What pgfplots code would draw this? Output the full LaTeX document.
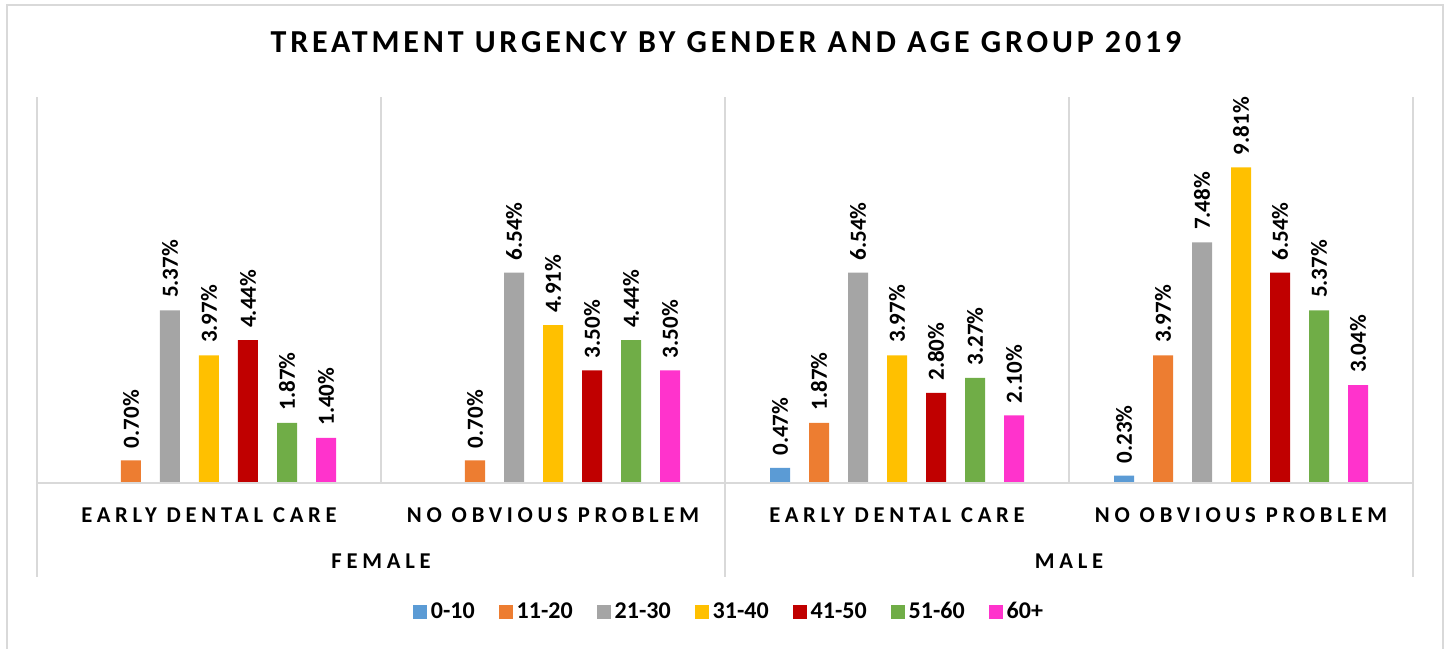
\documentclass[border=0pt]{standalone}
\usepackage{pgfplots}
\pgfplotsset{compat=1.18}
\usepackage{fontspec}
\setmainfont{Carlito}
\newfontfamily\spacedfont[LetterSpace=21]{Carlito}
\newfontfamily\titlefont[LetterSpace=12]{Carlito}
\definecolor{gridc}{HTML}{D9D9D9}
\definecolor{cA}{HTML}{5B9BD5}
\definecolor{cB}{HTML}{ED7D31}
\definecolor{cC}{HTML}{A5A5A5}
\definecolor{cD}{HTML}{FFC000}
\definecolor{cE}{HTML}{C00000}
\definecolor{cF}{HTML}{70AD47}
\definecolor{cG}{HTML}{FF33CC}
\pgfplotsset{sqlegend/.style={legend image code/.code={\fill[##1] (0pt,-3.5pt) rectangle (7pt,3.5pt);}}}
\begin{document}
\begin{tikzpicture}
\useasboundingbox (-18.5pt,-82.5pt) rectangle (704pt,241.5pt);
\draw[gridc, line width=0.75pt] (-15pt,-100pt) -- (-15pt,239pt) -- (703pt,239pt) -- (703pt,-100pt);
\node[anchor=base, font=\titlefont\bfseries\fontsize{16}{19}\selectfont] at (344.5pt,215pt) {TREATMENT URGENCY BY GENDER AND AGE GROUP 2019};
\begin{axis}[
  at={(0pt,0pt)}, anchor=south west,
  width=688pt, height=193pt, scale only axis,
  xmin=-0.5, xmax=3.5, ymin=0, ymax=12,
  ybar=9.5pt, bar width=10pt,
  axis line style={draw=none},
  ytick=\empty,
  xtick={0,1,2,3},
  xticklabels={EARLY DENTAL CARE, NO OBVIOUS PROBLEM, EARLY DENTAL CARE, NO OBVIOUS PROBLEM},
  xticklabel style={font=\spacedfont\bfseries\fontsize{11.3}{13}\selectfont, anchor=base, yshift=-19.5pt},
  major tick length=0pt, minor tick length=0pt,
  minor xtick={-0.5,0.5,1.5,2.5,3.5},
  xminorgrids, minor grid style={gridc, line width=0.75pt},
  clip=false,
  /pgf/number format/assume math mode=true,
  nodes near coords={\pgfmathprintnumber[fixed,fixed zerofill,precision=2,assume math mode=true]{\pgfplotspointmeta}\%},
  nodes near coords style={rotate=90, anchor=west, inner xsep=6pt, font=\bfseries\fontsize{11.5}{13}\selectfont, text=black},
  legend style={draw=none, at={(0.5036,-0.334)}, anchor=center, legend columns=-1,
    font=\bfseries\fontsize{12}{14}\selectfont,
    /tikz/every even column/.append style={column sep=10pt}},
  legend cell align=left,
]
\addplot[fill=cA, draw=none, sqlegend] coordinates {(2,0.47) (3,0.23)};
\addplot[fill=cB, draw=none, sqlegend] coordinates {(0,0.70) (1,0.70) (2,1.87) (3,3.97)};
\addplot[fill=cC, draw=none, sqlegend] coordinates {(0,5.37) (1,6.54) (2,6.54) (3,7.48)};
\addplot[fill=cD, draw=none, sqlegend] coordinates {(0,3.97) (1,4.91) (2,3.97) (3,9.81)};
\addplot[fill=cE, draw=none, sqlegend] coordinates {(0,4.44) (1,3.50) (2,2.80) (3,6.54)};
\addplot[fill=cF, draw=none, sqlegend] coordinates {(0,1.87) (1,4.44) (2,3.27) (3,5.37)};
\addplot[fill=cG, draw=none, sqlegend] coordinates {(0,1.40) (1,3.50) (2,2.10) (3,3.04)};
\legend{0-10,11-20,21-30,31-40,41-50,51-60,60+}
\draw[gridc, line width=0.75pt] (axis cs:-0.5,0) -- (axis cs:3.5,0);
\draw[gridc, line width=0.75pt] (axis cs:-0.5,0) -- ++(0pt,-47pt);
\draw[gridc, line width=0.75pt] (axis cs:1.5,0) -- ++(0pt,-47pt);
\draw[gridc, line width=0.75pt] (axis cs:3.5,0) -- ++(0pt,-47pt);
\node[anchor=base, font=\spacedfont\bfseries\fontsize{11.3}{13}\selectfont] at (axis cs:0.5,0) [yshift=-42.5pt] {FEMALE};
\node[anchor=base, font=\spacedfont\bfseries\fontsize{11.3}{13}\selectfont] at (axis cs:2.5,0) [yshift=-42.5pt] {MALE};
\end{axis}
\end{tikzpicture}
\end{document}
